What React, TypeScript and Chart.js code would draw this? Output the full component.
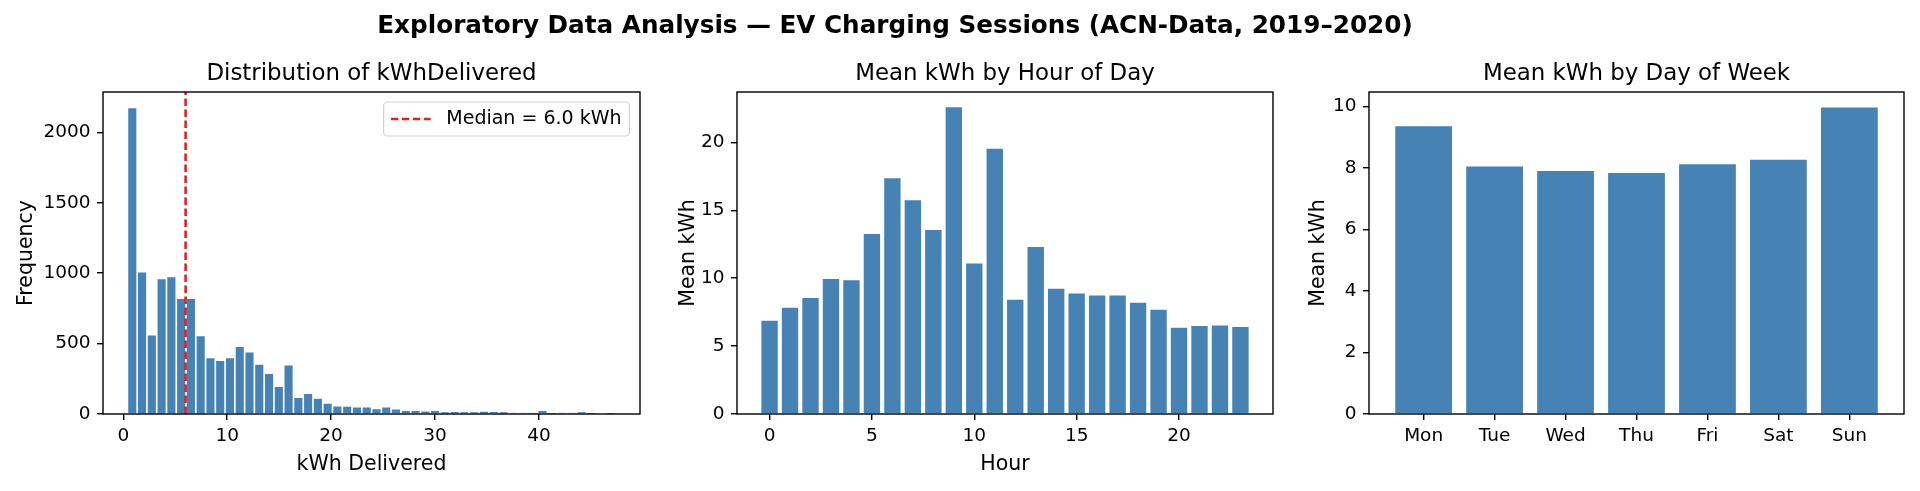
import React, { useEffect, useRef } from "react";
import { Chart, registerables } from "chart.js";

Chart.register(...registerables);

// ---------------- data ----------------
const SUPTITLE = "Exploratory Data Analysis — EV Charging Sessions (ACN-Data, 2019–2020)";

// Histogram of kWhDelivered (50 bins)
const HIST_BIN_START = 0.4;
const HIST_BIN_WIDTH = 0.94;
const HIST_COUNTS = [
  2177, 1010, 563, 963, 977, 823, 823, 557, 402, 382,
  402, 482, 442, 356, 290, 198, 351, 120, 147, 114,
  79, 59, 58, 52, 52, 40, 52, 38, 28, 28,
  24, 28, 15, 19, 14, 15, 21, 17, 14, 9,
  9, 7, 28, 1, 9, 9, 14, 1, 0, 1,
];
const MEDIAN_KWH = 6.0;
const HIST_X_TICKS = [0, 10, 20, 30, 40];
const HIST_Y_TICKS = [0, 500, 1000, 1500, 2000];
const HIST_X_MIN = -1.95;
const HIST_X_MAX = 49.73;
const HIST_Y_MAX = 2286;

// Mean kWh by hour of day
const HOURS = [0, 1, 2, 3, 4, 5, 6, 7, 8, 9, 10, 11, 12, 13, 14, 15, 16, 17, 18, 19, 20, 21, 22, 23];
const HOUR_MEANS = [
  6.86, 7.82, 8.53, 9.93, 9.85, 13.24, 17.35, 15.74, 13.55, 22.57, 11.08, 19.53,
  8.41, 12.3, 9.22, 8.87, 8.73, 8.73, 8.19, 7.67, 6.35, 6.47, 6.52, 6.4,
];
const HOUR_X_TICKS = [0, 5, 10, 15, 20];
const HOUR_Y_TICKS = [0, 5, 10, 15, 20];
const HOUR_X_MIN = -1.59;
const HOUR_X_MAX = 24.59;
const HOUR_Y_MAX = 23.7;

// Mean kWh by day of week
const DAYS = ["Mon", "Tue", "Wed", "Thu", "Fri", "Sat", "Sun"];
const DAY_MEANS = [9.36, 8.05, 7.9, 7.84, 8.12, 8.27, 9.97];
const DAY_Y_TICKS = [0, 2, 4, 6, 8, 10];
const DAY_X_MIN = -0.77;
const DAY_X_MAX = 6.77;
const DAY_Y_MAX = 10.47;

// ---------------- style ----------------
const FONT = "'DejaVu Sans', 'Liberation Sans', sans-serif";
const INK = "#000000";
const BAR_COLOR = "#4682B4";
const MEDIAN_COLOR = "#d62728";
const TICK_SIZE = 18.5;
const LABEL_SIZE = 20.5;
const TITLE_SIZE = 22.9;
const LEGEND_SIZE = 19;
const Y_AXIS_W = 103;
const X_AXIS_H = 77;
const CANVAS_H = 491;

Chart.defaults.font.family = FONT;
Chart.defaults.color = INK;

function fixedTicks(values: number[]) {
  return (scale: any) => {
    scale.ticks = values.map((v) => ({ value: v }));
  };
}

const gridOpts = {
  display: true,
  drawOnChartArea: false,
  drawTicks: true,
  tickLength: 6,
  tickWidth: 1.4,
  tickColor: INK,
  color: INK,
  lineWidth: 1.4,
  offset: false,
};

function xAxis(min: number, max: number, ticks: number[], title: string, label?: (v: number) => string) {
  return {
    type: "linear",
    min,
    max,
    offset: false,
    afterBuildTicks: fixedTicks(ticks),
    afterFit: (s: any) => {
      s.height = X_AXIS_H;
      s.paddingLeft = 0;
      s.paddingRight = 0;
    },
    grid: gridOpts,
    border: { display: false },
    ticks: {
      autoSkip: false,
      maxRotation: 0,
      minRotation: 0,
      padding: 5,
      color: INK,
      font: { size: TICK_SIZE, family: FONT },
      callback: label ? (v: any) => label(Number(v)) : (v: any) => String(v),
    },
    title: {
      display: title.length > 0,
      text: title,
      color: INK,
      font: { size: LABEL_SIZE, family: FONT },
      padding: { top: 0, bottom: 13.8 },
    },
  };
}

function yAxis(max: number, ticks: number[], title: string, titlePad: number) {
  return {
    type: "linear",
    min: 0,
    max,
    afterBuildTicks: fixedTicks(ticks),
    afterFit: (s: any) => {
      s.width = Y_AXIS_W;
      s.paddingTop = 0;
      s.paddingBottom = 0;
    },
    grid: gridOpts,
    border: { display: false },
    ticks: {
      autoSkip: false,
      padding: 6.5,
      color: INK,
      font: { size: TICK_SIZE, family: FONT },
      callback: (v: any) => String(v),
    },
    title: {
      display: true,
      text: title,
      color: INK,
      font: { size: LABEL_SIZE, family: FONT },
      padding: { top: titlePad, bottom: 0 },
    },
  };
}

function subTitle(text: string) {
  return {
    display: true,
    text,
    fullSize: false,
    color: INK,
    font: { size: TITLE_SIZE, weight: "normal", family: FONT },
    padding: { top: 60.06, bottom: 4.46 },
  };
}

const framePlugin = {
  id: "frame",
  afterDatasetsDraw(chart: any) {
    const { ctx, chartArea: a } = chart;
    ctx.save();
    ctx.strokeStyle = INK;
    ctx.lineWidth = 1.4;
    ctx.strokeRect(a.left, a.top, a.right - a.left, a.bottom - a.top);
    ctx.restore();
  },
};

const medianLegendPlugin = {
  id: "medianLegend",
  afterDraw(chart: any) {
    const ds = chart.data.datasets.find((d: any) => d.type === "line");
    if (!ds) return;
    const { ctx, chartArea: a } = chart;
    ctx.save();
    ctx.font = `${LEGEND_SIZE}px ${FONT}`;
    const textW = ctx.measureText(ds.label).width;
    const w = 62.7 + textW + 8;
    const h = 34;
    const x = a.right - 10.5 - w;
    const y = a.top + 10;
    ctx.beginPath();
    (ctx as any).roundRect(x, y, w, h, 4);
    ctx.fillStyle = "rgba(255,255,255,0.8)";
    ctx.fill();
    ctx.strokeStyle = "rgba(204,204,204,0.9)";
    ctx.lineWidth = 1.2;
    ctx.stroke();
    ctx.beginPath();
    ctx.setLineDash(ds.borderDash);
    ctx.strokeStyle = ds.borderColor;
    ctx.lineWidth = ds.borderWidth;
    ctx.moveTo(x + 7.2, y + h / 2);
    ctx.lineTo(x + 47.1, y + h / 2);
    ctx.stroke();
    ctx.setLineDash([]);
    ctx.fillStyle = INK;
    ctx.textBaseline = "middle";
    ctx.textAlign = "left";
    ctx.fillText(ds.label, x + 62.7, y + h / 2);
    ctx.restore();
  },
};

function histConfig(): any {
  const bins = HIST_COUNTS.map((c, i) => ({ x: HIST_BIN_START + HIST_BIN_WIDTH * (i + 0.5), y: c }));
  return {
    type: "bar",
    data: {
      datasets: [
        {
          type: "line",
          label: `Median = ${MEDIAN_KWH.toFixed(1)} kWh`,
          data: [
            { x: MEDIAN_KWH, y: 0 },
            { x: MEDIAN_KWH, y: HIST_Y_MAX },
          ],
          borderColor: MEDIAN_COLOR,
          borderWidth: 2.6,
          borderDash: [7.5, 3.5],
          pointRadius: 0,
          fill: false,
          order: 0,
        },
        {
          type: "bar",
          label: "kWhDelivered",
          data: bins,
          backgroundColor: BAR_COLOR,
          borderColor: "#ffffff",
          borderWidth: 1.15,
          borderSkipped: "start",
          barPercentage: 1,
          categoryPercentage: 1,
          order: 1,
        },
      ],
    },
    options: {
      responsive: false,
      animation: false,
      events: [],
      layout: { padding: { left: 0, right: 8, top: 0, bottom: 0 } },
      plugins: { legend: { display: false }, tooltip: { enabled: false }, title: subTitle("Distribution of kWhDelivered") },
      scales: {
        x: xAxis(HIST_X_MIN, HIST_X_MAX, HIST_X_TICKS, "kWh Delivered"),
        y: yAxis(HIST_Y_MAX, HIST_Y_TICKS, "Frequency", 14.8),
      },
    },
    plugins: [framePlugin, medianLegendPlugin],
  };
}

function hourConfig(): any {
  return {
    type: "bar",
    data: {
      datasets: [
        {
          label: "Mean kWh",
          data: HOURS.map((h, i) => ({ x: h, y: HOUR_MEANS[i] })),
          backgroundColor: BAR_COLOR,
          borderWidth: 0,
          barPercentage: 0.8,
          categoryPercentage: 1,
        },
      ],
    },
    options: {
      responsive: false,
      animation: false,
      events: [],
      layout: { padding: { left: 0, right: 8, top: 0, bottom: 0 } },
      plugins: { legend: { display: false }, tooltip: { enabled: false }, title: subTitle("Mean kWh by Hour of Day") },
      scales: {
        x: xAxis(HOUR_X_MIN, HOUR_X_MAX, HOUR_X_TICKS, "Hour"),
        y: yAxis(HOUR_Y_MAX, HOUR_Y_TICKS, "Mean kWh", 42),
      },
    },
    plugins: [framePlugin],
  };
}

function dayConfig(): any {
  return {
    type: "bar",
    data: {
      datasets: [
        {
          label: "Mean kWh",
          data: DAYS.map((_d, i) => ({ x: i, y: DAY_MEANS[i] })),
          backgroundColor: BAR_COLOR,
          borderWidth: 0,
          barPercentage: 0.8,
          categoryPercentage: 1,
        },
      ],
    },
    options: {
      responsive: false,
      animation: false,
      events: [],
      layout: { padding: { left: 0, right: 8, top: 0, bottom: 0 } },
      plugins: { legend: { display: false }, tooltip: { enabled: false }, title: subTitle("Mean kWh by Day of Week") },
      scales: {
        x: xAxis(DAY_X_MIN, DAY_X_MAX, DAYS.map((_d, i) => i), "", (v) => DAYS[Math.round(v)] ?? ""),
        y: yAxis(DAY_Y_MAX, DAY_Y_TICKS, "Mean kWh", 40.5),
      },
    },
    plugins: [framePlugin],
  };
}

function ChartCanvas({ left, width, make }: { left: number; width: number; make: () => any }) {
  const ref = useRef<HTMLCanvasElement | null>(null);
  useEffect(() => {
    if (!ref.current) return;
    const chart = new Chart(ref.current, make());
    return () => chart.destroy();
  }, [make]);
  return (
    <canvas
      ref={ref}
      width={width}
      height={CANVAS_H}
      style={{ position: "absolute", left, top: 0, width, height: CANVAS_H }}
    />
  );
}

export default function App() {
  return (
    <div
      style={{
        position: "absolute",
        left: 0,
        top: 0,
        width: 1920,
        height: 491,
        background: "#ffffff",
        overflow: "hidden",
      }}
    >
      <ChartCanvas left={0} width={648} make={histConfig} />
      <ChartCanvas left={634} width={647} make={hourConfig} />
      <ChartCanvas left={1266} width={646} make={dayConfig} />
      <div
        style={{
          position: "absolute",
          left: 0,
          top: 10,
          width: 1790,
          textAlign: "center",
          fontFamily: FONT,
          fontWeight: "bold",
          fontSize: 24.7,
          lineHeight: "30px",
          color: INK,
          whiteSpace: "nowrap",
        }}
      >
        {SUPTITLE}
      </div>
    </div>
  );
}
